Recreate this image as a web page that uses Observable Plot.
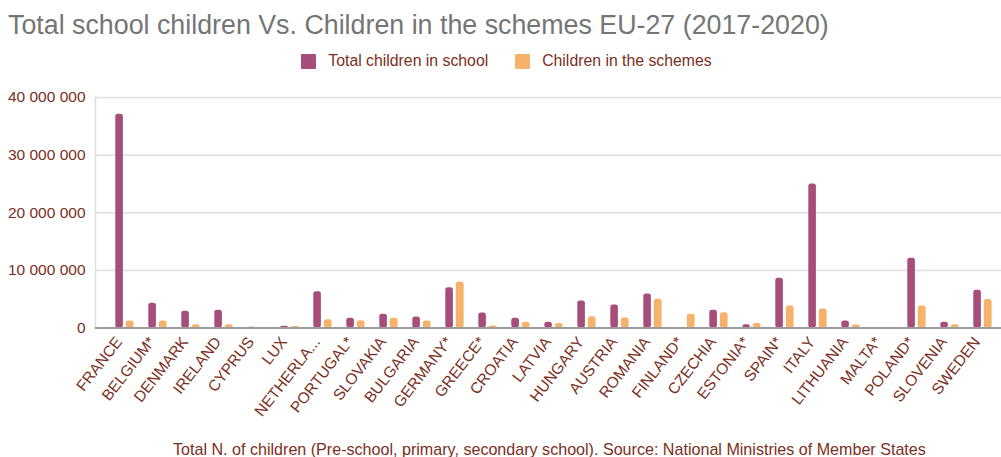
<!DOCTYPE html>
<html>
<head>
<meta charset="utf-8">
<script src="https://cdn.jsdelivr.net/npm/d3@7"></script>
<script src="https://cdn.jsdelivr.net/npm/@observablehq/plot@0.6"></script>
<style>
  html, body { margin: 0; padding: 0; background: #fff; width: 1001px; height: 457px; overflow: hidden; }
  body { font-family: "Liberation Sans", Arial, sans-serif; position: relative; }
  #title { position: absolute; left: 8px; top: 10px; font-size: 26.8px; line-height: 30px; color: #757575; white-space: nowrap; }
  #legend { position: absolute; left: 6px; width: 1001px; top: 52px; display: flex; justify-content: center; font-size: 15.8px; line-height: 18px; color: #7b2f22; gap: 27px; }
  #legend .item { display: flex; align-items: center; gap: 12px; }
  #legend .sw { width: 15px; height: 15px; border-radius: 1px; }
  #chart { position: absolute; left: 0; top: 80px; }
  #caption { position: absolute; left: 173px; top: 440px; text-align: left; font-size: 16.1px; line-height: 18px; color: #7b2f22; white-space: nowrap; }
</style>
</head>
<body>
<div id="title"></div>
<div id="legend"></div>
<div id="chart"></div>
<div id="caption"></div>
<script>
const titleText = "Total school children Vs. Children in the schemes EU-27 (2017-2020)";
const captionText = "Total N. of children (Pre-school, primary, secondary school). Source: National Ministries of Member States";
const seriesNames = ["Total children in school", "Children in the schemes"];
const seriesColors = ["#a64d79", "#f6b26b"];

const countries = ["FRANCE", "BELGIUM*", "DENMARK", "IRELAND", "CYPRUS", "LUX", "NETHERLA...", "PORTUGAL*", "SLOVAKIA", "BULGARIA", "GERMANY*", "GREECE*", "CROATIA", "LATVIA", "HUNGARY", "AUSTRIA", "ROMANIA", "FINLAND*", "CZECHIA", "ESTONIA*", "SPAIN*", "ITALY", "LITHUANIA", "MALTA*", "POLAND*", "SLOVENIA", "SWEDEN"];
const totalChildren = [37100000, 4300000, 2900000, 3100000, 150000, 300000, 6300000, 1700000, 2400000, 1900000, 7000000, 2600000, 1700000, 1000000, 4700000, 4000000, 5900000, 0, 3100000, 550000, 8650000, 25000000, 1200000, 60000, 12100000, 1000000, 6550000];
const schemeChildren = [1200000, 1200000, 550000, 550000, 100000, 250000, 1450000, 1250000, 1700000, 1200000, 8000000, 350000, 1000000, 800000, 1950000, 1750000, 5000000, 2400000, 2650000, 800000, 3800000, 3300000, 500000, 50000, 3800000, 550000, 4950000];
const yTicks = [0, 10000000, 20000000, 30000000, 40000000];

const data = countries.map((c, i) => ({country: c, total: totalChildren[i], schemes: schemeChildren[i]}));

document.getElementById("title").textContent = titleText;
document.getElementById("caption").textContent = captionText;
const legend = document.getElementById("legend");
seriesNames.forEach((name, i) => {
  const item = document.createElement("div");
  item.className = "item";
  const sw = document.createElement("div");
  sw.className = "sw";
  sw.style.background = seriesColors[i];
  const label = document.createElement("span");
  label.textContent = name;
  item.appendChild(sw);
  item.appendChild(label);
  legend.appendChild(item);
});

const fmt = d3.formatLocale({decimal: ".", thousands: " ", grouping: [3], currency: ["", ""]}).format(",");

const chart = Plot.plot({
  width: 1001,
  height: 355,
  marginLeft: 95,
  marginRight: 0,
  marginTop: 17,
  marginBottom: 107.5,
  style: {color: "#7b2f22", fontFamily: "'Liberation Sans', Arial, sans-serif", background: "transparent"},
  x: {domain: countries, paddingInner: 0, paddingOuter: 0.05, label: null},
  y: {domain: [0, 40000000], label: null},
  marks: [
    Plot.gridY(yTicks.slice(1), {stroke: "#dedede", strokeOpacity: 1, strokeWidth: 1.5}),
    Plot.frame({anchor: "left", stroke: "#dedede", strokeWidth: 1.5}),
    Plot.barY(data, {x: "country", y: "total", fill: seriesColors[0], insetLeft: 12.3, insetRight: 13.1, rx: 2.5}),
    Plot.barY(data, {x: "country", y: "schemes", fill: seriesColors[1], insetLeft: 22.8, insetRight: 2.4, rx: 2.5}),
    Plot.ruleY([0], {stroke: "#9a9a9a", strokeWidth: 2}),
    Plot.axisY({ticks: yTicks, tickFormat: fmt, tickSize: 0, tickPadding: 10, fontSize: 15.5, label: null}),
    Plot.axisX({tickSize: 0, tickPadding: 11, tickRotate: -52, fontSize: 15.5, dx: -1, label: null})
  ]
});
document.getElementById("chart").appendChild(chart);
</script>
</body>
</html>
